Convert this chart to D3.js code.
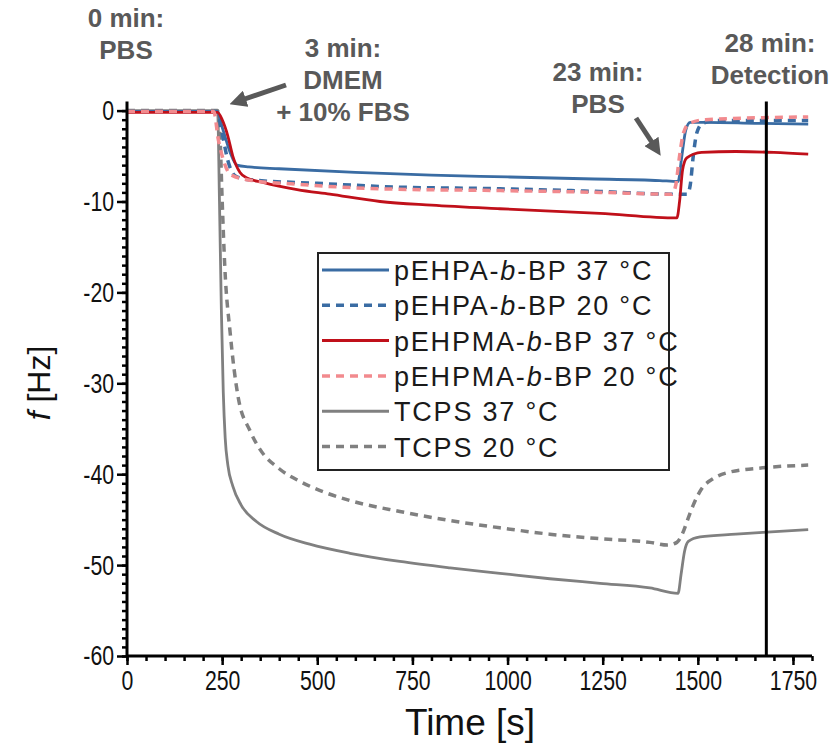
<!DOCTYPE html>
<html>
<head>
<meta charset="utf-8">
<script src="https://cdn.jsdelivr.net/npm/d3@7"></script>
<style>
  body { margin: 0; background: #fff; }
  svg { display: block; }
  .tick text { font-family: "Liberation Sans", Arial, sans-serif; font-size: 28px; fill: #111; }
  .note { font-family: "Liberation Sans", Arial, sans-serif; font-weight: bold; font-size: 26px; fill: #595959; }
  .leg { font-family: "Liberation Sans", Arial, sans-serif; font-size: 27px; letter-spacing: 1.8px; fill: #1a1a1a; }
</style>
</head>
<body>
<script>
// [time s, frequency shift Hz]
const pehpa37 = [[0,-0.1],[236,-0.1],[252,-2.1],[271,-4.6],[289,-6.0],[320,-6.2],[400,-6.4],[600,-6.8],[800,-7.1],[1000,-7.3],[1200,-7.5],[1400,-7.7],[1448,-7.8],[1458,-5],[1468,-2.2],[1480,-1.3],[1520,-1.3],[1650,-1.4],[1790,-1.5]];
const pehpa20 = [[0,-0.1],[236,-0.1],[250,-2.5],[265,-5.5],[285,-7.2],[320,-7.6],[500,-8.0],[700,-8.4],[980,-8.6],[1243,-8.9],[1440,-9.2],[1472,-9.2],[1480,-8.2],[1488,-5],[1497,-2.5],[1512,-1.4],[1550,-1.1],[1790,-1.1]];
const pehpma37 = [[0,-0.2],[238,-0.2],[250,-1],[265,-2.8],[278,-5],[297,-6.8],[315,-7.4],[357,-7.9],[447,-8.7],[533,-9.2],[665,-10.0],[800,-10.4],[980,-10.8],[1243,-11.3],[1445,-11.8],[1452,-10],[1460,-6.5],[1471,-5.2],[1510,-4.6],[1600,-4.5],[1700,-4.6],[1790,-4.8]];
const pehpma20 = [[0,-0.1],[228,-0.1],[240,-3.2],[253,-5.4],[271,-7.0],[315,-7.6],[447,-8.1],[665,-8.6],[980,-8.8],[1243,-9.0],[1432,-9.2],[1442,-8.2],[1452,-5],[1462,-2.5],[1478,-1.4],[1520,-1.0],[1790,-0.7]];
const tcps37 = [[0,0],[238,0],[243,-10],[248,-22],[253,-31],[258,-36],[265,-39],[278,-41.3],[300,-43.4],[340,-45.2],[400,-46.6],[480,-47.7],[586,-48.7],[717,-49.6],[849,-50.3],[980,-50.9],[1111,-51.5],[1243,-52],[1374,-52.5],[1448,-53.1],[1456,-51],[1465,-48.5],[1475,-47.4],[1506,-46.9],[1600,-46.6],[1671,-46.4],[1790,-46.1]];
const tcps20 = [[0,0],[238,0],[244,-2.4],[250,-9.8],[257,-17.2],[271,-24.4],[292,-31.5],[323,-35.2],[350,-37.3],[400,-39.4],[455,-40.8],[520,-42],[586,-42.9],[717,-44.1],[849,-45.1],[980,-45.9],[1111,-46.6],[1243,-47.1],[1374,-47.5],[1420,-47.8],[1445,-47.5],[1460,-46.5],[1475,-44.8],[1490,-43.2],[1510,-41.6],[1540,-40.5],[1580,-39.8],[1670,-39.3],[1790,-39.0]];

const xTicks = [0, 250, 500, 750, 1000, 1250, 1500, 1750];
const yTicks = [0, -10, -20, -30, -40, -50, -60];
const detectionTime = 1680;

const series = [
  {name: ["TCPS 20 °C"], data: tcps20, color: "#808080", dash: true},
  {name: ["TCPS 37 °C"], data: tcps37, color: "#808080", dash: false},
  {name: ["pEHPA-", "b", "-BP 37 °C"], data: pehpa37, color: "#3a6ca3", dash: false},
  {name: ["pEHPA-", "b", "-BP 20 °C"], data: pehpa20, color: "#3a6ca3", dash: true},
  {name: ["pEHPMA-", "b", "-BP 37 °C"], data: pehpma37, color: "#c0101a", dash: false},
  {name: ["pEHPMA-", "b", "-BP 20 °C"], data: pehpma20, color: "#f28a8e", dash: true}
];
const legendOrder = [2, 3, 4, 5, 1, 0];

const width = 833, height = 745;
const svg = d3.select("body").append("svg")
  .attr("width", width)
  .attr("height", height);

const x = d3.scaleLinear().domain([0, 1800]).range([127, 812]);
const y = d3.scaleLinear().domain([-60, 1]).range([656, 101.5]);

const line = d3.line()
  .x(d => x(d[0]))
  .y(d => y(d[1]))
  .curve(d3.curveMonotoneX);

// data lines
svg.append("g").selectAll("path")
  .data(series)
  .join("path")
  .attr("fill", "none")
  .attr("stroke", d => d.color)
  .attr("stroke-width", d => d.dash ? 3.5 : 2.8)
  .attr("stroke-dasharray", d => d.dash ? "8,6" : null)
  .attr("d", d => line(d.data));

// detection line
svg.append("line")
  .attr("x1", x(detectionTime)).attr("x2", x(detectionTime))
  .attr("y1", y(1)).attr("y2", y(-60))
  .attr("stroke", "#000")
  .attr("stroke-width", 3);

// axes
const fmt = d => String(d);

const yMinor = svg.append("g")
  .attr("transform", `translate(${x(0)},0)`)
  .call(d3.axisLeft(y).tickValues(d3.range(-60, 1, 1)).tickSize(5).tickFormat(""));
yMinor.select(".domain").remove();

const yAxis = svg.append("g")
  .attr("transform", `translate(${x(0)},0)`)
  .call(d3.axisLeft(y).tickValues(yTicks).tickSize(10).tickPadding(6).tickFormat(fmt));

const xMinor = svg.append("g")
  .attr("transform", `translate(0,${y(-60)})`)
  .call(d3.axisBottom(x).tickValues(d3.range(0, 1801, 50)).tickSize(5).tickFormat(""));
xMinor.select(".domain").remove();

const xAxis = svg.append("g")
  .attr("transform", `translate(0,${y(-60)})`)
  .call(d3.axisBottom(x).tickValues(xTicks).tickSize(9).tickPadding(5).tickFormat(fmt));

svg.selectAll(".domain").attr("stroke", "#000").attr("stroke-width", 3);
svg.selectAll(".tick line").attr("stroke", "#000").attr("stroke-width", 2.5);
xAxis.selectAll(".domain").attr("d", `M${x(0)},0H${x(1800)}`);
yAxis.selectAll(".domain").attr("d", `M0,${y(1)}V${y(-60)}`);

// condensed look of the tick labels
xAxis.selectAll(".tick text").attr("transform", "scale(0.76,1)");
yAxis.selectAll(".tick text").attr("x", -17).attr("transform", "scale(0.76,1)");

// axis titles
svg.append("text")
  .attr("x", 470).attr("y", 735)
  .attr("text-anchor", "middle")
  .style("font-family", "'Liberation Sans', Arial, sans-serif")
  .style("font-size", "37px")
  .attr("fill", "#111")
  .text("Time [s]");

const yl = svg.append("text")
  .attr("transform", "translate(50,383) rotate(-90)")
  .attr("text-anchor", "middle")
  .style("font-family", "'Liberation Sans', Arial, sans-serif")
  .style("font-size", "32px")
  .attr("fill", "#111");
yl.append("tspan").style("font-style", "italic").text("f");
yl.append("tspan").text(" [Hz]");

// legend
const lg = svg.append("g");
lg.append("rect")
  .attr("x", 318).attr("y", 253)
  .attr("width", 351).attr("height", 217)
  .attr("fill", "#fff")
  .attr("stroke", "#222")
  .attr("stroke-width", 2);

legendOrder.forEach((si, i) => {
  const s = series[si];
  const cy = 270 + i * 35.3;
  lg.append("line")
    .attr("x1", 322).attr("x2", 389)
    .attr("y1", cy).attr("y2", cy)
    .attr("stroke", s.color)
    .attr("stroke-width", s.dash ? 3.5 : 3)
    .attr("stroke-dasharray", s.dash ? "8,6" : null);
  const t = lg.append("text")
    .attr("class", "leg")
    .attr("x", 394).attr("y", cy + 10);
  s.name.forEach((part, k) => {
    t.append("tspan")
      .style("font-style", k === 1 ? "italic" : null)
      .text(part);
  });
});

// annotations
const notes = [
  {x: 126, y: 27, lines: ["0 min:", "PBS"]},
  {x: 343, y: 57, lines: ["3 min:", "DMEM", "+ 10% FBS"]},
  {x: 598, y: 81, lines: ["23 min:", "PBS"]},
  {x: 770, y: 52, lines: ["28 min:", "Detection"]}
];
notes.forEach(n => {
  n.lines.forEach((l, i) => {
    svg.append("text")
      .attr("class", "note")
      .attr("x", n.x).attr("y", n.y + i * 32)
      .attr("text-anchor", "middle")
      .text(l);
  });
});

svg.append("defs").append("marker")
  .attr("id", "arr")
  .attr("viewBox", "0 0 10 10")
  .attr("refX", 6).attr("refY", 5)
  .attr("markerWidth", 3.4).attr("markerHeight", 3.4)
  .attr("orient", "auto")
  .append("path")
  .attr("d", "M0,0L10,5L0,10z")
  .attr("fill", "#595959");

const arrows = [
  {x1: 286, y1: 85, x2: 236, y2: 102},
  {x1: 636, y1: 118, x2: 657, y2: 150}
];
arrows.forEach(a => {
  svg.append("line")
    .attr("x1", a.x1).attr("y1", a.y1)
    .attr("x2", a.x2).attr("y2", a.y2)
    .attr("stroke", "#595959")
    .attr("stroke-width", 5)
    .attr("marker-end", "url(#arr)");
});
</script>
</body>
</html>
